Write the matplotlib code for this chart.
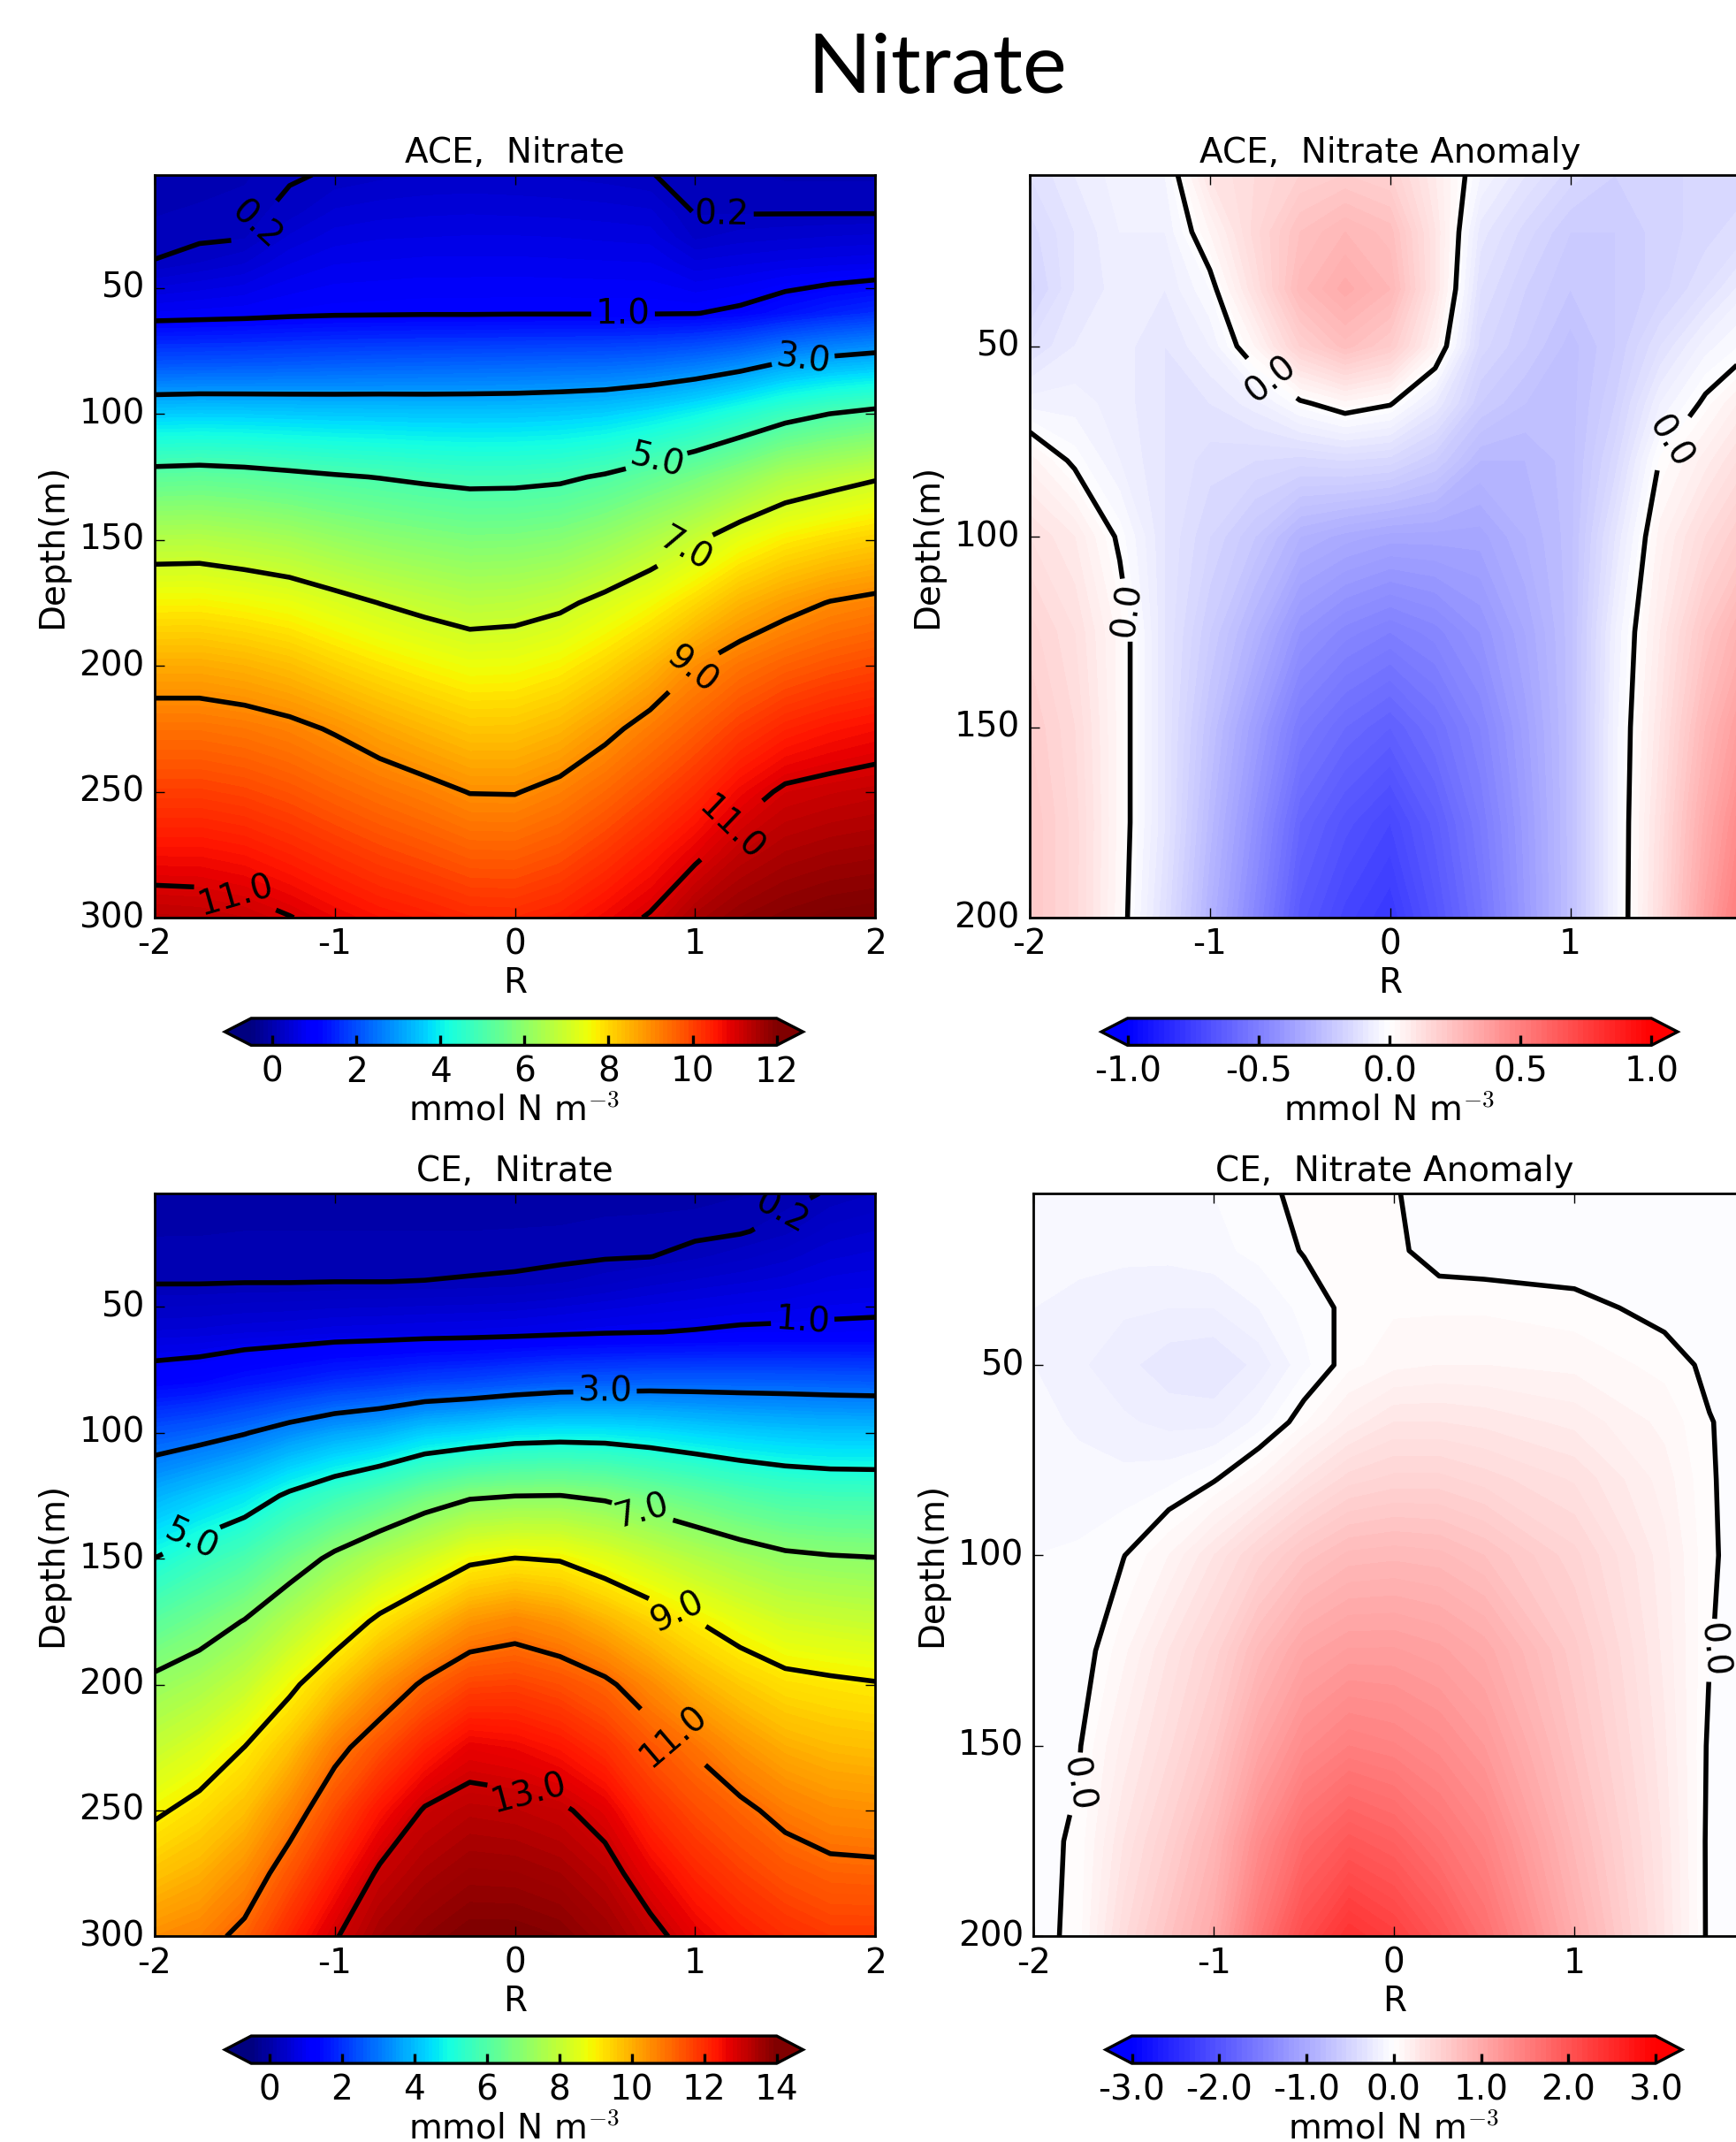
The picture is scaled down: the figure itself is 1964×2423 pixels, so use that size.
import numpy as np
import matplotlib
matplotlib.use('Agg')
import matplotlib.pyplot as plt

# ---- data ----
r_no3 = [-2.0, -1.75, -1.5, -1.25, -1.0, -0.75, -0.5, -0.25, 0.0,
         0.25, 0.5, 0.75, 1.0, 1.25, 1.5, 1.75, 2.0]
depth_no3 = [5, 20, 30, 40, 60, 80, 100, 125, 150, 175, 200, 225, 250, 275, 300]

# ACE nitrate, one depth profile per R value
ace_no3_profiles = [
    [0.00, 0.09, 0.14, 0.21, 0.81, 2.07, 3.58, 5.28, 6.59, 7.65, 8.60, 9.38, 10.03, 10.68, 11.34],
    [0.04, 0.12, 0.17, 0.30, 0.84, 2.09, 3.61, 5.32, 6.61, 7.66, 8.60, 9.38, 10.03, 10.68, 11.30],
    [0.08, 0.15, 0.19, 0.39, 0.87, 2.11, 3.59, 5.26, 6.50, 7.56, 8.50, 9.30, 9.94, 10.59, 11.20],
    [0.18, 0.25, 0.42, 0.59, 0.92, 2.14, 3.56, 5.16, 6.37, 7.43, 8.33, 9.16, 9.78, 10.40, 11.02],
    [0.22, 0.42, 0.55, 0.69, 0.95, 2.18, 3.53, 5.06, 6.16, 7.21, 8.07, 8.94, 9.57, 10.19, 10.80],
    [0.27, 0.46, 0.59, 0.71, 0.96, 2.21, 3.52, 4.98, 5.99, 6.99, 7.84, 8.67, 9.37, 9.99, 10.60],
    [0.30, 0.48, 0.60, 0.73, 0.97, 2.23, 3.50, 4.89, 5.87, 6.81, 7.64, 8.44, 9.19, 9.83, 10.47],
    [0.31, 0.49, 0.61, 0.73, 0.97, 2.25, 3.50, 4.82, 5.77, 6.66, 7.47, 8.23, 8.98, 9.65, 10.32],
    [0.30, 0.48, 0.61, 0.73, 0.98, 2.27, 3.51, 4.83, 5.79, 6.71, 7.50, 8.24, 8.97, 9.64, 10.30],
    [0.28, 0.47, 0.60, 0.72, 0.98, 2.30, 3.55, 4.89, 5.89, 6.87, 7.67, 8.44, 9.18, 9.81, 10.45],
    [0.25, 0.45, 0.58, 0.71, 0.98, 2.32, 3.63, 5.07, 6.15, 7.18, 8.01, 8.83, 9.50, 10.13, 10.75],
    [0.205, 0.42, 0.56, 0.70, 0.98, 2.39, 3.81, 5.35, 6.51, 7.53, 8.44, 9.24, 9.87, 10.50, 11.05],
    [0.16, 0.19, 0.28, 0.52, 0.99, 2.53, 4.06, 5.65, 6.92, 7.97, 8.99, 9.63, 10.27, 10.90, 11.54],
    [0.12, 0.19, 0.35, 0.57, 1.08, 2.75, 4.39, 6.04, 7.39, 8.46, 9.35, 10.05, 10.75, 11.31, 11.80],
    [0.08, 0.19, 0.38, 0.62, 1.29, 3.07, 4.75, 6.49, 7.73, 8.78, 9.61, 10.38, 11.09, 11.52, 11.95],
    [0.08, 0.19, 0.41, 0.65, 1.48, 3.26, 5.01, 6.72, 7.93, 9.03, 9.79, 10.56, 11.18, 11.62, 12.05],
    [0.08, 0.19, 0.43, 0.68, 1.63, 3.38, 5.19, 6.93, 8.10, 9.16, 9.92, 10.68, 11.25, 11.67, 12.10],
]

# CE nitrate, one depth profile per R value
ce_no3_profiles = [
    [0.02, 0.09, 0.135, 0.18, 0.61, 1.29, 2.53, 3.83, 5.01, 6.15, 7.21, 8.04, 8.87, 9.69, 10.50],
    [0.02, 0.09, 0.14, 0.18, 0.63, 1.38, 2.71, 4.18, 5.47, 6.56, 7.53, 8.43, 9.26, 9.98, 10.70],
    [0.03, 0.10, 0.14, 0.19, 0.68, 1.59, 2.96, 4.55, 5.86, 7.04, 8.02, 9.01, 9.75, 10.51, 11.20],
    [0.03, 0.10, 0.145, 0.19, 0.71, 1.76, 3.32, 5.13, 6.53, 7.73, 8.82, 9.73, 10.61, 11.39, 12.10],
    [0.03, 0.10, 0.15, 0.199, 0.76, 1.96, 3.64, 5.60, 7.19, 8.43, 9.62, 10.75, 11.55, 12.25, 12.95],
    [0.03, 0.10, 0.15, 0.199, 0.78, 2.08, 3.85, 6.02, 7.76, 9.18, 10.42, 11.47, 12.37, 13.11, 13.50],
    [0.03, 0.10, 0.15, 0.203, 0.81, 2.24, 4.23, 6.52, 8.27, 9.78, 11.13, 12.15, 13.06, 13.43, 13.80],
    [0.03, 0.10, 0.15, 0.215, 0.83, 2.33, 4.39, 6.89, 8.84, 10.40, 11.64, 12.68, 13.26, 13.63, 14.00],
    [0.03, 0.105, 0.155, 0.23, 0.86, 2.47, 4.59, 6.99, 9.02, 10.63, 11.69, 12.58, 13.21, 13.61, 14.00],
    [0.04, 0.11, 0.16, 0.28, 0.91, 2.60, 4.65, 7.01, 8.94, 10.39, 11.49, 12.36, 13.10, 13.50, 13.90],
    [0.05, 0.13, 0.18, 0.36, 0.96, 2.64, 4.63, 6.86, 8.56, 9.95, 11.15, 11.95, 12.75, 13.24, 13.60],
    [0.05, 0.14, 0.195, 0.45, 0.99, 2.69, 4.52, 6.55, 8.15, 9.47, 10.56, 11.38, 12.02, 12.66, 13.20],
    [0.06, 0.155, 0.27, 0.52, 1.025, 2.69, 4.36, 6.27, 7.76, 9.03, 9.98, 10.92, 11.54, 12.12, 12.70],
    [0.09, 0.18, 0.36, 0.58, 1.07, 2.68, 4.23, 5.98, 7.44, 8.61, 9.56, 10.41, 11.17, 11.73, 12.30],
    [0.14, 0.27, 0.46, 0.64, 1.08, 2.67, 4.14, 5.77, 7.18, 8.27, 9.25, 10.02, 10.78, 11.41, 12.00],
    [0.22, 0.44, 0.58, 0.73, 1.09, 2.64, 4.08, 5.68, 7.08, 8.15, 9.14, 9.84, 10.54, 11.21, 11.80],
    [0.30, 0.50, 0.63, 0.76, 1.10, 2.61, 4.07, 5.66, 7.03, 8.05, 9.05, 9.77, 10.48, 11.18, 11.80],
]

depth_anom = [5, 20, 35, 50, 65, 80, 100, 125, 150, 175, 200]

# ACE nitrate anomaly (rows = depth, cols = R)
r_ace_anom = [-2.0, -1.75, -1.5, -1.25, -1.0, -0.75, -0.5, -0.25, 0.0,
              0.25, 0.5, 0.75, 1.0, 1.25, 1.5, 1.75, 2.0]
ace_anom = [
    [-0.12, -0.08, -0.05, -0.04, 0.10, 0.14, 0.18, 0.20, 0.18, 0.08, -0.04, -0.10, -0.15, -0.18, -0.17, -0.15, -0.15],
    [-0.15, -0.10, -0.06, -0.06, 0.04, 0.15, 0.24, 0.28, 0.25, 0.10, -0.09, -0.15, -0.20, -0.20, -0.17, -0.15, -0.12],
    [-0.17, -0.10, -0.07, -0.08, -0.02, 0.12, 0.27, 0.33, 0.28, 0.10, -0.12, -0.18, -0.22, -0.20, -0.17, -0.12, -0.06],
    [-0.12, -0.08, -0.07, -0.10, -0.06, 0.04, 0.18, 0.25, 0.20, 0.05, -0.15, -0.20, -0.25, -0.20, -0.12, -0.05, -0.01],
    [-0.05, -0.05, -0.07, -0.10, -0.10, -0.07, -0.01, 0.03, 0.005, -0.08, -0.20, -0.24, -0.25, -0.18, -0.06, 0.01, 0.08],
    [0.05, -0.01, -0.06, -0.10, -0.13, -0.14, -0.15, -0.14, -0.15, -0.20, -0.28, -0.28, -0.25, -0.15, 0.005, 0.07, 0.14],
    [0.12, 0.08, -0.01, -0.10, -0.16, -0.22, -0.30, -0.33, -0.35, -0.35, -0.35, -0.30, -0.25, -0.10, 0.05, 0.14, 0.22],
    [0.17, 0.12, 0.03, -0.10, -0.20, -0.30, -0.42, -0.47, -0.50, -0.47, -0.42, -0.34, -0.25, -0.06, 0.08, 0.22, 0.33],
    [0.20, 0.14, 0.03, -0.10, -0.24, -0.38, -0.52, -0.58, -0.62, -0.56, -0.48, -0.37, -0.25, -0.05, 0.10, 0.28, 0.42],
    [0.22, 0.15, 0.03, -0.10, -0.27, -0.43, -0.60, -0.67, -0.72, -0.63, -0.52, -0.39, -0.25, -0.05, 0.12, 0.33, 0.50],
    [0.22, 0.15, 0.025, -0.12, -0.30, -0.47, -0.65, -0.73, -0.78, -0.67, -0.55, -0.40, -0.25, -0.05, 0.13, 0.37, 0.57],
]

# CE nitrate anomaly (rows = depth, cols = R)
r_ce_anom = [-2.0, -1.75, -1.5, -1.25, -1.0, -0.75, -0.5, -0.25, 0.0, 0.25, 0.5, 1.0, 1.5, 1.75, 2.0]
ce_anom = [
    [-0.08, -0.08, -0.08, -0.07, -0.06, -0.02, 0.02, 0.03, 0.005, -0.03, -0.05, -0.06, -0.06, -0.06, -0.06],
    [-0.10, -0.10, -0.10, -0.10, -0.08, -0.04, 0.005, 0.04, 0.02, -0.04, -0.05, -0.06, -0.06, -0.05, -0.05],
    [-0.12, -0.14, -0.17, -0.18, -0.18, -0.12, -0.04, 0.02, 0.05, 0.05, 0.05, 0.03, -0.03, -0.05, -0.05],
    [-0.12, -0.17, -0.22, -0.28, -0.30, -0.22, -0.08, 0.04, 0.10, 0.12, 0.12, 0.10, 0.04, -0.02, -0.04],
    [-0.10, -0.13, -0.17, -0.20, -0.20, -0.10, 0.05, 0.20, 0.30, 0.30, 0.28, 0.22, 0.10, 0.004, -0.04],
    [-0.08, -0.10, -0.10, -0.08, -0.01, 0.12, 0.30, 0.45, 0.50, 0.50, 0.45, 0.35, 0.15, 0.007, -0.04],
    [-0.06, -0.05, -0.003, 0.12, 0.30, 0.50, 0.68, 0.80, 0.82, 0.80, 0.72, 0.50, 0.20, 0.01, -0.04],
    [-0.05, -0.06, 0.10, 0.30, 0.50, 0.80, 1.05, 1.15, 1.15, 1.10, 1.00, 0.62, 0.22, 0.003, -0.04],
    [-0.05, -0.01, 0.20, 0.40, 0.65, 1.05, 1.35, 1.50, 1.45, 1.35, 1.20, 0.70, 0.25, -0.02, -0.05],
    [-0.04, 0.02, 0.30, 0.55, 0.85, 1.35, 1.75, 1.95, 1.85, 1.65, 1.45, 0.82, 0.28, -0.03, -0.05],
    [-0.04, 0.03, 0.40, 0.70, 1.00, 1.60, 2.10, 2.40, 2.25, 2.00, 1.70, 0.95, 0.30, -0.03, -0.05],
]

ace_lines = [0.2, 1.0, 3.0, 5.0, 7.0, 9.0, 11.0]
ce_lines = [0.2, 1.0, 3.0, 5.0, 7.0, 9.0, 11.0, 13.0]

# ---- style ----
plt.style.use('classic')
plt.rcParams['font.family'] = 'DejaVu Sans'
plt.rcParams['axes.unicode_minus'] = False
plt.rcParams['font.size'] = 14

fig = plt.figure(figsize=(9.825, 12.115), dpi=200, facecolor='white')

fig.text(0.5394, 0.9567, 'Nitrate', fontsize=34, family='Lato',
         ha='center', va='baseline')


def draw_panel(ax_rect, cax_rect, x, depths, field, levels, cmap, lines,
               ymax, cticks, cfmt, title, label_pos, right_panel):
    ax = fig.add_axes(ax_rect)
    cax = fig.add_axes(cax_rect)
    z = np.array(field)
    cs = ax.contourf(x, depths, z, levels=levels, cmap=cmap, extend='both')
    cl = ax.contour(x, depths, z, levels=lines, colors='k', linewidths=2)
    ax.clabel(cl, fmt='%.1f', fontsize=14, inline=True, manual=label_pos)
    ax.set_xlim(-2, 2)
    ax.set_ylim(ymax, 5)
    ax.set_xticks([-2, -1, 0, 1, 2])
    if right_panel:
        # the picture ends before the last tick label of the right column
        ax.set_xticklabels(['-2', '-1', '0', '1', ''])
    ax.set_yticks(np.arange(50, ymax + 1, 50))
    ax.set_title(title, fontsize=14)
    ax.set_xlabel('R', fontsize=14, labelpad=2)
    ax.set_ylabel('Depth(m)', fontsize=14, labelpad=4)
    ax.tick_params(direction='in', top=True, right=True, length=4)

    cb = fig.colorbar(cs, cax=cax, orientation='horizontal',
                      ticks=cticks, format=cfmt)
    cb.ax.xaxis.set_ticks_position('bottom')
    cb.ax.tick_params(direction='in', length=4, width=1.2, color='k')
    cb.set_label('mmol N m$^{-3}$', fontsize=14, labelpad=2)
    cb.outline.set_linewidth(1.2)
    return ax


draw_panel([0.0889, 0.5716, 0.4151, 0.3468], [0.1295, 0.5120, 0.3328, 0.0126],
           r_no3, depth_no3, np.array(ace_no3_profiles).T,
           np.linspace(-0.5, 12, 126), 'jet', ace_lines, 300,
           np.arange(0, 13, 2), '%d', 'ACE,  Nitrate',
           [(-1.4, 27), (1.15, 24), (0.6, 62), (1.6, 79), (0.78, 117),
            (0.95, 155), (1.0, 203), (1.2, 265), (-1.55, 292)], False)

draw_panel([0.5928, 0.5716, 0.4151, 0.3468], [0.6341, 0.5120, 0.3318, 0.0126],
           r_ace_anom, depth_anom, ace_anom, np.linspace(-1, 1, 101), 'bwr',
           [0.0], 200, [-1.0, -0.5, 0.0, 0.5, 1.0], '%.1f',
           'ACE,  Nitrate Anomaly',
           [(-0.65, 58), (-1.42, 119), (1.55, 75)], True)

draw_panel([0.0889, 0.0960, 0.4151, 0.3468], [0.1295, 0.0367, 0.3328, 0.0128],
           r_no3, depth_no3, np.array(ce_no3_profiles).T,
           np.linspace(-0.5, 14, 146), 'jet', ce_lines, 300,
           np.arange(0, 15, 2), '%d', 'CE,  Nitrate',
           [(1.5, 15), (1.6, 59), (0.5, 84), (-1.8, 142), (0.72, 128),
            (0.93, 167), (0.92, 217), (0.1, 238)], False)

draw_panel([0.5951, 0.0960, 0.4151, 0.3468], [0.6366, 0.0367, 0.3317, 0.0128],
           r_ce_anom, depth_anom, ce_anom, np.linspace(-3, 3, 101), 'bwr',
           [0.0], 200, [-3.0, -2.0, -1.0, 0.0, 1.0, 2.0, 3.0], '%.1f',
           'CE,  Nitrate Anomaly',
           [(-1.76, 160), (1.78, 125)], True)

fig.savefig('out.png', dpi=200, facecolor='white')
